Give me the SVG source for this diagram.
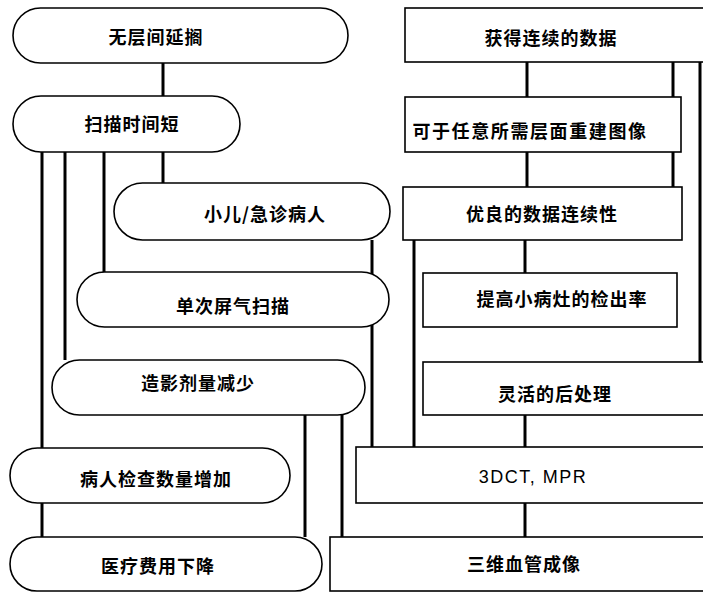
<svg xmlns="http://www.w3.org/2000/svg" width="703" height="593" viewBox="0 0 703 593">
<style>
.n{fill:#fff;stroke:#000;stroke-width:1.6}
.c{stroke:#000;stroke-width:3;fill:none}
.t{font-family:"Noto Sans CJK SC","Noto Sans CJK JP",sans-serif;font-size:18px;font-weight:bold;letter-spacing:1px;text-anchor:middle;dominant-baseline:central;fill:#000}
.w{letter-spacing:1.6px}
.l{font-family:"Liberation Sans",Arial,sans-serif;font-size:18px;letter-spacing:1.5px;text-anchor:middle;dominant-baseline:central;fill:#000}
</style>
<rect width="703" height="593" fill="#fff"/>
<g id="connectors">
<line class="c" x1="163" y1="63" x2="163" y2="96"/>
<line class="c" x1="42" y1="152" x2="42" y2="448"/>
<line class="c" x1="42" y1="503" x2="42" y2="537"/>
<line class="c" x1="65" y1="152" x2="65" y2="360"/>
<line class="c" x1="104" y1="152" x2="104" y2="272"/>
<line class="c" x1="163" y1="152" x2="163" y2="183"/>
<line class="c" x1="372" y1="240" x2="372" y2="447"/>
<line class="c" x1="305" y1="415" x2="305" y2="537"/>
<line class="c" x1="342" y1="415" x2="342" y2="537"/>
<line class="c" x1="414" y1="240" x2="414" y2="447"/>
<line class="c" x1="527" y1="62" x2="527" y2="97"/>
<line class="c" x1="527" y1="152" x2="527" y2="187"/>
<line class="c" x1="673" y1="62" x2="673" y2="187"/>
<line class="c" x1="700" y1="62" x2="700" y2="362"/>
<line class="c" x1="525" y1="240" x2="525" y2="273"/>
<line class="c" x1="525" y1="415" x2="525" y2="447"/>
<line class="c" x1="525" y1="503" x2="525" y2="537"/>
</g>
<g id="n1"><rect class="n" x="13" y="8" width="335" height="55" rx="27.5"/><text class="t" x="156" y="36">无层间延搁</text></g>
<g id="n2"><rect class="n" x="13" y="96" width="227" height="56" rx="28"/><text class="t" x="132" y="123">扫描时间短</text></g>
<g id="n3"><rect class="n" x="114" y="183" width="276" height="57" rx="28.5"/><text class="t" x="265" y="213">小儿/急诊病人</text></g>
<g id="n4"><rect class="n" x="77" y="272" width="312" height="55" rx="27.5"/><text class="t" x="233" y="305">单次屏气扫描</text></g>
<g id="n5"><rect class="n" x="52" y="360" width="313" height="55" rx="27.5"/><text class="t" x="198" y="382">造影剂量减少</text></g>
<g id="n6"><rect class="n" x="10" y="448" width="280" height="55" rx="27.5"/><text class="t" x="156" y="478">病人检查数量增加</text></g>
<g id="n7"><rect class="n" x="10" y="537" width="312" height="54" rx="27"/><text class="t" x="158" y="565">医疗费用下降</text></g>
<g id="n8"><rect class="n" x="405" y="8" width="310" height="54"/><text class="t" x="551" y="37">获得连续的数据</text></g>
<g id="n9"><rect class="n" x="405" y="97" width="276" height="55"/><text class="t w" x="530" y="130">可于任意所需层面重建图像</text></g>
<g id="n10"><rect class="n" x="403" y="187" width="279" height="53"/><text class="t" x="542" y="213">优良的数据连续性</text></g>
<g id="n11"><rect class="n" x="423" y="273" width="254" height="54"/><text class="t" x="562" y="298">提高小病灶的检出率</text></g>
<g id="n12"><rect class="n" x="423" y="362" width="292" height="53"/><text class="t" x="555" y="393">灵活的后处理</text></g>
<g id="n13"><rect class="n" x="356" y="447" width="359" height="56"/><text class="l" x="533" y="477">3DCT, MPR</text></g>
<g id="n14"><rect class="n" x="330" y="537" width="385" height="54"/><text class="t" x="524" y="563">三维血管成像</text></g>
</svg>
